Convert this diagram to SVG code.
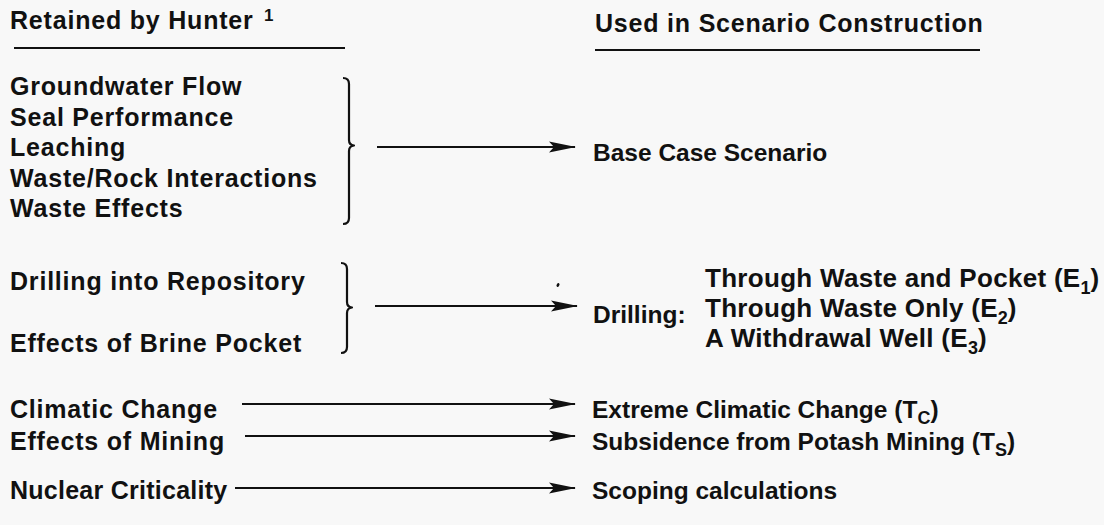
<svg xmlns="http://www.w3.org/2000/svg" width="1104" height="525" viewBox="0 0 1104 525">
<defs>
<style>
text{font-family:"Liberation Sans",Arial,sans-serif;font-weight:bold;font-size:25px;letter-spacing:0.8px;fill:#111}
.r{font-size:24.5px;letter-spacing:0}
.lst{font-size:26px;letter-spacing:0.3px}
.sub{font-size:18px;letter-spacing:0}
.ln{stroke:#111;stroke-width:2;fill:none}
.br{stroke:#111;stroke-width:2.2;fill:none;stroke-linejoin:round}
</style>
<marker id="ah" viewBox="0 0 27 12" refX="26" refY="6" markerWidth="27" markerHeight="12" markerUnits="userSpaceOnUse" orient="auto">
<path d="M0,0.5 L27,6 L0,11.5 L5,6 Z" fill="#111"/>
</marker>
</defs>
<rect width="1104" height="525" fill="#f8f8f8"/>
<g id="header-left">
<text x="10" y="29">Retained by Hunter</text>
<text x="264" y="21" style="font-size:17px;letter-spacing:0">1</text>
<line class="ln" x1="14" y1="48" x2="345" y2="48"/>
</g>
<g id="header-right">
<text x="595" y="32">Used in Scenario Construction</text>
<line class="ln" x1="595" y1="50" x2="980" y2="50"/>
</g>
<g id="group-base">
<text x="10" y="95">Groundwater Flow</text>
<text x="10" y="125.5">Seal Performance</text>
<text x="10" y="156">Leaching</text>
<text x="10" y="186.5">Waste/Rock Interactions</text>
<text x="10" y="217">Waste Effects</text>
<path class="br" d="M343,78 Q349,78 349,84 L349,140 Q349,145 354,145.5 Q349,146 349,151 L349,218 Q349,224 343,224"/>
</g>
<g id="base-case">
<text class="r" x="593" y="161">Base Case Scenario</text>
</g>
<g id="group-drilling">
<text x="10" y="290">Drilling into Repository</text>
<text x="10" y="352">Effects of Brine Pocket</text>
<path class="br" d="M341,263 Q347,263 347,269 L347,302 Q347,307 352,307.5 Q347,308 347,313 L347,347 Q347,353 341,353"/>
</g>
<g id="drilling">
<text class="r" x="593" y="323">Drilling:</text>
<text class="lst" x="705" y="287">Through Waste and Pocket (E<tspan class="sub" dy="7">1</tspan><tspan dy="-7">)</tspan></text>
<text class="lst" x="705" y="317">Through Waste Only (E<tspan class="sub" dy="7">2</tspan><tspan dy="-7">)</tspan></text>
<text class="lst" x="705" y="347">A Withdrawal Well (E<tspan class="sub" dy="7">3</tspan><tspan dy="-7">)</tspan></text>
</g>
<g id="climatic">
<text x="10" y="418">Climatic Change</text>
</g>
<g id="extreme">
<text class="r" x="592" y="418">Extreme Climatic Change (T<tspan class="sub" dy="6">C</tspan><tspan dy="-6">)</tspan></text>
</g>
<g id="mining">
<text x="10" y="450">Effects of Mining</text>
</g>
<g id="subsidence">
<text class="r" x="592" y="450">Subsidence from Potash Mining (T<tspan class="sub" dy="6">S</tspan><tspan dy="-6">)</tspan></text>
</g>
<g id="nuclear">
<text x="10" y="499" textLength="218" lengthAdjust="spacing">Nuclear Criticality</text>
</g>
<g id="scoping">
<text class="r" x="592" y="499">Scoping calculations</text>
</g>
<g id="connectors">
<line class="ln" x1="377" y1="147" x2="575" y2="147" marker-end="url(#ah)"/>
<line class="ln" x1="375" y1="306" x2="577" y2="306" marker-end="url(#ah)"/>
<line class="ln" x1="242" y1="404" x2="575" y2="404" marker-end="url(#ah)"/>
<line class="ln" x1="245" y1="436" x2="575" y2="436" marker-end="url(#ah)"/>
<line class="ln" x1="235" y1="488" x2="575" y2="488" marker-end="url(#ah)"/>
</g>
<ellipse cx="558" cy="285" rx="1.3" ry="2" fill="#111" transform="rotate(30 558 285)"/>
</svg>
